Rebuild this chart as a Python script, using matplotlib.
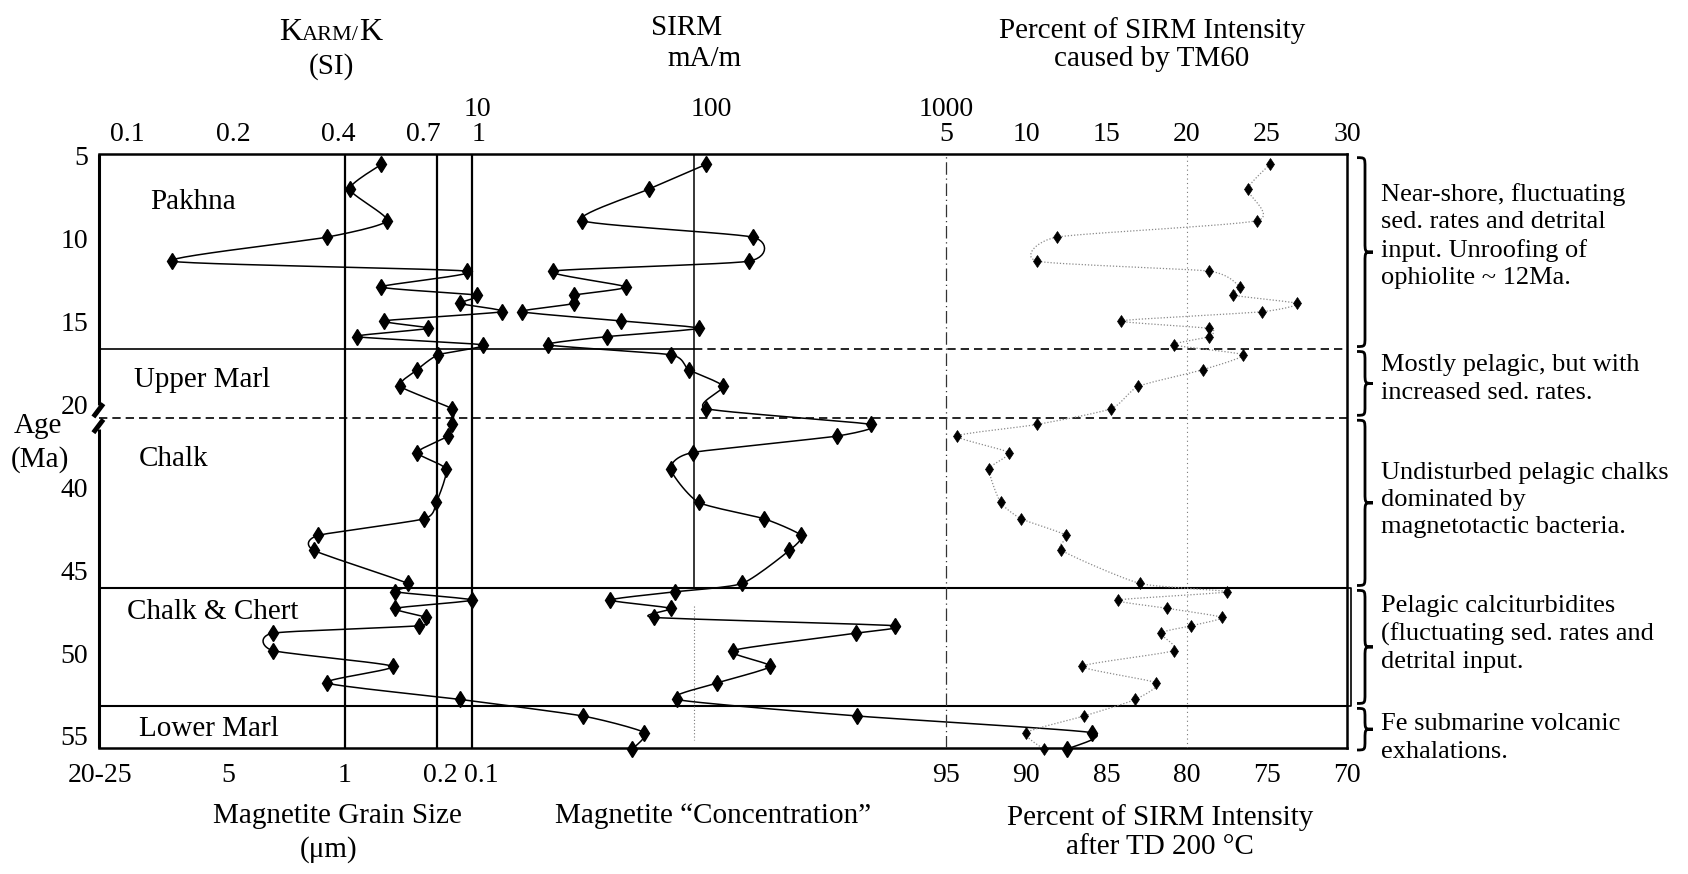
import numpy as np
import matplotlib
matplotlib.use('Agg')
import matplotlib.pyplot as plt
import matplotlib.transforms as mtransforms
from matplotlib.path import Path
from matplotlib.patches import PathPatch
from matplotlib.ticker import NullLocator, FixedLocator

plt.rcParams['font.family'] = ['Liberation Serif', 'DejaVu Serif']

W, H = 1688, 874

# --- samples (age in Ma) -------------------------------------------------
age_ma = [5.5, 7.0, 8.9, 9.9, 11.35, 11.95, 12.9, 13.4, 13.9, 14.4,
          14.95, 15.4, 15.9, 16.4, 17.0, 17.9, 18.9, 20.25, 36.2, 36.9,
          37.9, 38.9, 40.9, 41.9, 42.9, 43.8, 45.8, 46.3, 46.8, 47.3,
          47.85, 48.35, 48.8, 49.85, 50.8, 51.8, 52.8, 53.8, 54.8, 55.8]
karm_k = [0.53, 0.43, 0.55, 0.37, 0.134, 0.93, 0.53, 0.99, 0.89, 1.17,
          0.54, 0.72, 0.45, 1.03, 0.77, 0.67, 0.60, 0.84, 0.84, 0.82,
          0.67, 0.81, 0.76, 0.70, 0.35, 0.34, 0.63, 0.58, 0.96, 0.58,
          0.71, 0.68, 0.26, 0.26, 0.57, 0.37, 0.89, 1.99, 2.98, 2.75]
sirm_ma_m = [95, 54, 28, 150, 144, 21, 43, 26, 26, 15.6,
             41, 88, 36, 20, 67, 80, 112, 95, 477, 344,
             83, 67, 88, 168, 241, 215, 135, 70, 37, 67,
             57, 606, 412, 123, 178, 106, 71, 419, 4180, 3270]
tm60_pct = [25.2, 23.8, 24.4, 11.9, 10.7, 21.4, 23.3, 22.9, 26.9, 24.7,
            15.9, 21.4, 21.4, 19.2, 23.5, 21.0, 17.0, 15.3, 10.7, 5.7,
            8.9, 7.7, 8.4, 9.7, 12.5, 12.2, 17.1, 22.5, 15.7, 18.8,
            22.2, 20.3, 18.4, 19.2, 13.5, 18.1, 16.8, 13.6, 10.0, 11.1]

# --- axis scales -----------------------------------------------------------
age_ticks = [5, 10, 15, 20, 40, 45, 50, 55]
karm_ticks = [0.1, 0.2, 0.4, 0.7, 1]
sirm_ticks = [10, 100, 1000]
tm60_ticks = [5, 10, 15, 20, 25, 30]
td_labels = ['95', '90', '85', '80', '75', '70']
grain_labels = ['20-25', '5', '1', '0.2', '0.1']
grain_at_karm = [0.0835, 0.1935, 0.416, 0.764, 0.958]
sirm_ref = 84

# --- lithology -------------------------------------------------------------
unit_names = ['Pakhna', 'Upper Marl', 'Chalk', 'Chalk & Chert', 'Lower Marl']
unit_label_age = [7.8, 18.5, 38.3, 47.5, 54.6]
unit_label_x = [0.0753, 0.0825, 0.060, 0.0913, 0.088]
pakhna_base = 16.65
chalk_base = 46.07
chert_base = 53.19
age_top, age_bottom = 4.88, 55.73
GAP_TOP, GAP_BASE = 20.8, 35.8   # ages either side of the cut in the age axis

notes = ['Near-shore, fluctuating\nsed. rates and detrital\ninput. Unroofing of\nophiolite ~ 12Ma.',
         'Mostly pelagic, but with\nincreased sed. rates.',
         'Undisturbed pelagic chalks\ndominated by\nmagnetotactic bacteria.',
         'Pelagic calciturbidites\n(fluctuating sed. rates and\ndetrital input.',
         'Fe submarine volcanic\nexhalations.']
note_y_px = [236, 379, 500, 634, 738]


def depth(a):
    a = np.asarray(a, float)
    return np.where(a <= GAP_TOP, a, a - (GAP_BASE - GAP_TOP))


def smooth(x, y, log=False, n=14, c=0.6):
    """Cardinal spline through the samples (in display-linear space)."""
    x = np.log10(x) if log else np.asarray(x, float)
    y = np.asarray(y, float)
    P = np.column_stack([x, y])
    P = np.vstack([P[0], P, P[-1]])
    t = np.linspace(0, 1, n)[:, None]
    h00 = 2 * t ** 3 - 3 * t ** 2 + 1
    h10 = t ** 3 - 2 * t ** 2 + t
    h01 = -2 * t ** 3 + 3 * t ** 2
    h11 = t ** 3 - t ** 2
    out = []
    for i in range(1, len(P) - 2):
        p0, p1, p2, p3 = P[i - 1], P[i], P[i + 1], P[i + 2]
        m1 = c * (p2 - p0) / 2
        m2 = c * (p3 - p1) / 2
        seg = h00 * p1 + h10 * m1 + h01 * p2 + h11 * m2
        out.append(seg if i == 1 else seg[1:])
    out = np.vstack(out)
    xs = 10 ** out[:, 0] if log else out[:, 0]
    return xs, out[:, 1]


def fxy(x, y):
    return x / W, 1 - y / H


fig = plt.figure(figsize=(W / 100, H / 100), dpi=100)
rect = [99 / W, 1 - 748 / H, 1248 / W, 594 / H]
ax = fig.add_axes(rect)
ax.set_xlim(0, 1)
ax.set_ylim(depth(age_bottom), depth(age_top))
ax.set_xticks([])
ax.yaxis.set_major_locator(FixedLocator(depth(age_ticks)))
ax.set_yticklabels([str(a) for a in age_ticks])
ax.tick_params(axis='y', length=0, pad=8, labelsize=20)
for side in ['top', 'bottom', 'right']:
    ax.spines[side].set_linewidth(1.8)
ax.spines['left'].set_visible(False)


def overlay(scale, lim):
    a = fig.add_axes(rect, sharey=ax)
    a.set_xscale(scale)
    a.set_xlim(*lim)
    a.patch.set_visible(False)
    for s in a.spines.values():
        s.set_visible(False)
    a.tick_params(left=False, labelleft=False, bottom=False, labelbottom=False,
                  top=False, labeltop=False, length=0, labelsize=20)
    a.xaxis.set_minor_locator(NullLocator())
    return a


KARM_LIM = (0.0829, 301)
SIRM_LIM = (0.2443, 51286)
TM60_LIM = (-47.8, 30.0)

ax_k = overlay('log', KARM_LIM)
ax_g = overlay('log', KARM_LIM)
ax_s = overlay('log', SIRM_LIM)
ax_t = overlay('linear', TM60_LIM)
ax_td = overlay('linear', TM60_LIM)

# top scales
ax_k.xaxis.set_major_locator(FixedLocator(karm_ticks))
ax_k.set_xticklabels([f'{v:g}' for v in karm_ticks])
ax_k.tick_params(labeltop=True, pad=5)
ax_s.xaxis.set_major_locator(FixedLocator(sirm_ticks))
ax_s.set_xticklabels([str(v) for v in sirm_ticks])
ax_s.tick_params(labeltop=True, pad=23)
ax_t.xaxis.set_major_locator(FixedLocator(tm60_ticks))
ax_t.set_xticklabels([str(v) for v in tm60_ticks])
ax_t.tick_params(labeltop=True, pad=5)
# bottom scales
ax_g.xaxis.set_major_locator(FixedLocator(grain_at_karm))
ax_g.set_xticklabels(grain_labels)
ax_g.tick_params(labelbottom=True, pad=11)
# the two finest grain sizes sit close together; nudge their labels apart
for lab, dx in zip(ax_g.get_xticklabels()[3:], (3, 10)):
    lab.set_transform(lab.get_transform() + mtransforms.ScaledTranslation(dx / 100, 0, fig.dpi_scale_trans))
ax_td.xaxis.set_major_locator(FixedLocator(tm60_ticks))
ax_td.set_xticklabels(td_labels)
ax_td.tick_params(labelbottom=True, pad=11)

y_top, y_bot = depth(age_top), depth(age_bottom)

# reference lines
for g in grain_at_karm[2:]:
    ax_k.axvline(g, color='black', lw=1.6, zorder=1)
d_chalk, d_chert, d_pak, d_gap = depth([chalk_base, chert_base, pakhna_base, GAP_TOP])
ax_s.plot([sirm_ref, sirm_ref], [y_top, d_chalk], color='black', lw=1.1, zorder=1)
ax_s.plot([sirm_ref, sirm_ref], [d_chalk + 1.1, y_bot - 0.5], color='#777777',
          lw=0.8, ls=(0, (1, 2)), zorder=1)
ax_t.axvline(5, color='#333333', lw=0.9, ls=(0, (10, 3, 1, 3)), zorder=1)
ax_t.axvline(20, color='#777777', lw=0.8, ls=(0, (1, 3)), zorder=1)

# unit boundaries
x_sirm = (np.log10(sirm_ref) - np.log10(SIRM_LIM[0])) / (np.log10(SIRM_LIM[1]) - np.log10(SIRM_LIM[0]))
ax.hlines(d_pak, 0, x_sirm, color='black', lw=1.2)
ax.hlines(d_pak, x_sirm, 1, color='black', lw=1.2, ls=(0, (5, 3)))
ax.hlines(d_gap, 0, 1, color='black', lw=1.2, ls=(0, (5, 3)))
ax.hlines([d_chalk, d_chert], 0, 1, color='black', lw=1.5)
ax.plot([1, 1.0032, 1.0032, 1], [d_chalk, d_chalk, d_chert, d_chert],
        color='black', lw=1.2, clip_on=False)

# broken left axis
ax.plot([0, 0], [y_top, d_gap - 0.75], color='black', lw=2.2, clip_on=False, solid_capstyle='butt')
ax.plot([0, 0], [d_gap + 0.7, y_bot], color='black', lw=2.2, clip_on=False, solid_capstyle='butt')
for dy in (-0.45, 0.5):
    ax.plot([-0.0045, 0.0035], [d_gap + dy + 0.4, d_gap + dy - 0.4],
            color='black', lw=3.5, clip_on=False, solid_capstyle='butt')

# data series
d_samples = depth(age_ma)
xk, yk = smooth(karm_k, d_samples, log=True)
ax_k.plot(xk, yk, color='black', lw=1.1, clip_on=False, zorder=3)
ax_k.plot(karm_k, d_samples, ls='none', marker='d', ms=8, color='black', clip_on=False, zorder=4)

xs, ys = smooth(sirm_ma_m, d_samples, log=True)
ax_s.plot(xs, ys, color='black', lw=1.1, clip_on=False, zorder=3)
ax_s.plot(sirm_ma_m, d_samples, ls='none', marker='d', ms=8, color='black', clip_on=False, zorder=4)

xt, yt = smooth(tm60_pct, d_samples)
ax_t.plot(xt, yt, color='#8a8a8a', lw=0.9, ls=(0, (1, 1.5)), clip_on=False, zorder=3)
ax_t.plot(tm60_pct, d_samples, ls='none', marker='d', ms=6, mew=0.5, color='black',
          clip_on=False, zorder=4)

# unit names
for name, a, x in zip(unit_names, unit_label_age, unit_label_x):
    ax.text(x, depth(a), name, fontsize=21, ha='center', va='center')

# braces and notes on the right
brace_tr = mtransforms.blended_transform_factory(fig.transFigure, ax.transData)
bounds = [depth(age_top) + 0.07, d_pak, d_gap, d_chalk, d_chert, depth(56.0)]


def brace(top, bot, xs=1365 / W, w=8 / W):
    r = min(0.6, (bot - top) / 4)
    mid = (top + bot) / 2
    verts = [(xs - w, top), (xs, top), (xs, top), (xs, top + r),
             (xs, mid - r),
             (xs, mid), (xs, mid), (xs + w, mid),
             (xs, mid), (xs, mid), (xs, mid + r),
             (xs, bot - r),
             (xs, bot), (xs, bot), (xs - w, bot)]
    codes = [Path.MOVETO] + [Path.CURVE4] * 3 + [Path.LINETO] + [Path.CURVE4] * 6 \
        + [Path.LINETO] + [Path.CURVE4] * 3
    fig.add_artist(PathPatch(Path(verts, codes), fc='none', ec='black', lw=2.0,
                             transform=brace_tr, clip_on=False))


for i in range(5):
    brace(bounds[i] + 0.15, bounds[i + 1] - 0.15)
for txt, y in zip(notes, note_y_px):
    fig.text(*fxy(1381, y), txt, fontsize=19, ha='left', va='center', linespacing=1.3)

# panel titles; KARM/K set in small capitals
renderer = fig.canvas.get_renderer()
x0, base = fxy(279, 40)
for part, size in (('K', 23), ('ARM/', 16), ('K', 23)):
    t = fig.text(x0, base, part, fontsize=size, ha='left', va='baseline')
    x0 = fig.transFigure.inverted().transform(
        (t.get_window_extent(renderer).x1, 0))[0]
fig.text(*fxy(331, 67), '(SI)', fontsize=21, ha='center', va='center')
fig.text(*fxy(687, 28), 'SIRM', fontsize=21, ha='center', va='center')
fig.text(*fxy(705, 59), 'mA/m', fontsize=21, ha='center', va='center')
fig.text(*fxy(1152, 45), 'Percent of SIRM Intensity\ncaused by TM60', fontsize=21,
         ha='center', va='center', linespacing=1.1)
fig.text(*fxy(337, 816), 'Magnetite Grain Size', fontsize=21, ha='center', va='center')
fig.text(*fxy(329, 850), '(\u03bcm)', fontsize=21, ha='center', va='center')
fig.text(*fxy(713, 816), 'Magnetite \u201cConcentration\u201d', fontsize=21, ha='center', va='center')
fig.text(*fxy(1160, 832), 'Percent of SIRM Intensity\nafter TD 200 \u00b0C', fontsize=21,
         ha='center', va='center', linespacing=1.15)
fig.text(*fxy(38, 426), 'Age', fontsize=21, ha='center', va='center')
fig.text(*fxy(40, 460), '(Ma)', fontsize=21, ha='center', va='center')

fig.savefig('out.png', dpi=100)
